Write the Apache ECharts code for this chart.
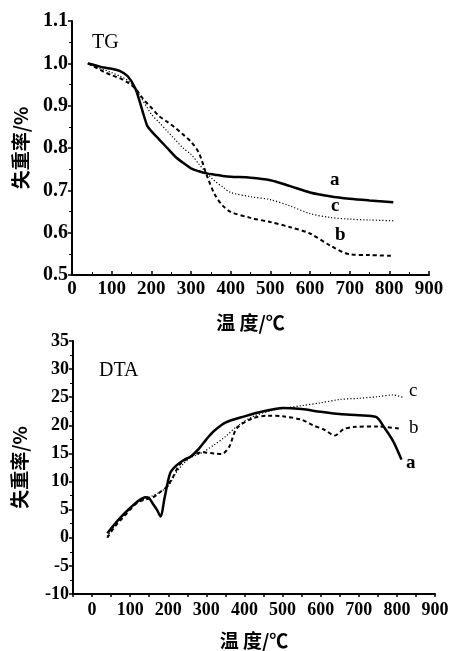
<!DOCTYPE html>
<html>
<head>
<meta charset="utf-8">
<script src="https://cdn.jsdelivr.net/npm/echarts@6/dist/echarts.min.js"></script>
<style>
  html, body { margin: 0; padding: 0; background: #fff; }
  #chart { width: 455px; height: 651px; }
</style>
</head>
<body>
<div id="chart"></div>
<script>
// TG curves (temperature / mass fraction)
const tgTemp = [40, 60, 80, 100, 120, 140, 160, 180, 190, 200, 220, 240, 260, 280, 300, 320, 340, 360, 380, 400, 450, 500, 550, 600, 650, 700, 750, 810];
const tgA = [1.0, 0.995, 0.99, 0.987, 0.982, 0.97, 0.94, 0.88, 0.852, 0.84, 0.82, 0.80, 0.78, 0.765, 0.752, 0.745, 0.74, 0.737, 0.734, 0.732, 0.73, 0.724, 0.71, 0.695, 0.686, 0.68, 0.676, 0.672];
const tgB = [1.0, 0.99, 0.98, 0.972, 0.965, 0.955, 0.94, 0.915, 0.905, 0.895, 0.875, 0.862, 0.848, 0.832, 0.815, 0.788, 0.735, 0.69, 0.664, 0.649, 0.635, 0.625, 0.613, 0.598, 0.57, 0.549, 0.547, 0.545];
const tgC = [1.0, 0.99, 0.985, 0.978, 0.97, 0.96, 0.94, 0.91, 0.895, 0.88, 0.86, 0.84, 0.82, 0.80, 0.785, 0.762, 0.74, 0.722, 0.708, 0.695, 0.685, 0.678, 0.663, 0.645, 0.636, 0.632, 0.63, 0.628];

// DTA curves
const dtaTempA = [40, 60, 80, 100, 120, 140, 150, 160, 170, 180, 190, 205, 220, 240, 260, 280, 300, 320, 350, 400, 450, 500, 550, 600, 650, 700, 745, 765, 790, 812];
const dtaA = [0.8, 2.5, 4, 5.3, 6.5, 7.2, 7.0, 6.0, 5.0, 3.8, 7.0, 11.5, 12.8, 13.8, 14.5, 15.8, 17.5, 19.0, 20.5, 21.6, 22.5, 23.1, 22.9, 22.4, 22.0, 21.8, 21.5, 19.8, 17.2, 13.9];
const dtaTempB = [40, 60, 80, 100, 120, 140, 160, 180, 195, 210, 230, 260, 290, 320, 340, 360, 380, 420, 460, 500, 550, 580, 610, 637, 660, 685, 750, 808];
const dtaB = [0, 2, 3.5, 5, 6.3, 6.8, 7.2, 8.2, 9.0, 10.5, 13, 14.5, 15.2, 15.0, 14.9, 16.2, 19.5, 21.2, 21.7, 21.6, 21.0, 20.0, 19.2, 18.2, 19.3, 19.7, 19.8, 19.4];
const dtaTempC = [40, 60, 80, 100, 120, 140, 160, 180, 200, 220, 240, 260, 290, 320, 350, 380, 420, 470, 510, 550, 600, 650, 700, 750, 790, 815];
const dtaC = [0.3, 2.2, 3.8, 5.2, 6.3, 7.0, 7.5, 8.2, 9.2, 11.5, 13.2, 14.3, 15.2, 16.5, 18.0, 19.8, 21.5, 22.6, 23.1, 23.5, 24.0, 24.6, 24.8, 25.1, 25.4, 25.0];

const yName = '失重率/%';
const xName = '温 度/℃';

function pairs(xs, ys) {
  return xs.map((x, i) => [x, ys[i]]);
}

const labelFont = { color: '#000', fontFamily: 'Liberation Serif', fontWeight: 'bold', fontSize: 19 };
const nameFont = { color: '#000', fontFamily: 'Noto Sans CJK SC', fontWeight: 'bold', fontSize: 19 };
const axisLine = { show: true, onZero: false, lineStyle: { color: '#000', width: 2 } };

function lineSeries(data, type, width, xi) {
  return {
    type: 'line',
    xAxisIndex: xi,
    yAxisIndex: xi,
    data: data,
    smooth: 0.3,
    symbol: 'none',
    lineStyle: { color: '#000', width: width, type: type },
    animation: false
  };
}

const chart = echarts.init(document.getElementById('chart'));

chart.setOption({
  backgroundColor: '#fff',
  animation: false,
  grid: [
    { left: 72, top: 21, width: 357, height: 254 },
    { left: 73, top: 341, width: 362, height: 259 }
  ],
  xAxis: [
    {
      gridIndex: 0, type: 'value', min: 0, max: 900, interval: 100,
      name: xName, nameLocation: 'middle', nameGap: 38, nameTextStyle: nameFont,
      axisLine: axisLine,
      axisTick: { show: true, inside: true, length: 4, lineStyle: { color: '#000', width: 1.5 } },
      minorTick: { show: true, splitNumber: 2, length: 3, lineStyle: { color: '#000' } },
      axisLabel: Object.assign({ margin: 5 }, labelFont),
      splitLine: { show: false }
    },
    {
      gridIndex: 1, type: 'value', min: -50, max: 900, interval: 50,
      name: xName, nameLocation: 'middle', nameGap: 37, nameTextStyle: nameFont,
      axisLine: axisLine,
      axisTick: { show: true, inside: false, length: 3, lineStyle: { color: '#000', width: 1.5 } },
      axisLabel: Object.assign({
        margin: 7,
        formatter: (v) => (v >= 0 && v % 100 === 0 ? String(v) : '')
      }, labelFont, { fontSize: 18 }),
      splitLine: { show: false }
    }
  ],
  yAxis: [
    {
      gridIndex: 0, type: 'value', min: 0.5, max: 1.1, interval: 0.1,
      name: yName, nameLocation: 'middle', nameGap: 42, nameTextStyle: nameFont,
      axisLine: axisLine,
      axisTick: { show: true, inside: false, length: 4, lineStyle: { color: '#000', width: 1.5 } },
      minorTick: { show: true, splitNumber: 2, length: 3, lineStyle: { color: '#000' } },
      axisLabel: Object.assign({ margin: 4, formatter: (v) => v.toFixed(1) }, labelFont, { fontSize: 20 }),
      splitLine: { show: false }
    },
    {
      gridIndex: 1, type: 'value', min: -10, max: 35, interval: 5,
      name: yName, nameLocation: 'middle', nameGap: 44, nameTextStyle: nameFont,
      axisLine: axisLine,
      axisTick: { show: true, inside: false, length: 4, lineStyle: { color: '#000', width: 1.5 } },
      minorTick: { show: true, splitNumber: 2, length: 3, lineStyle: { color: '#000' } },
      axisLabel: Object.assign({ margin: 4 }, labelFont, { fontSize: 18 }),
      splitLine: { show: false }
    }
  ],
  graphic: [
    { type: 'text', left: 92, top: 33, style: { text: 'TG', font: '20px "Liberation Serif"', fill: '#000' } },
    { type: 'text', left: 99, top: 361, style: { text: 'DTA', font: '20px "Liberation Serif"', fill: '#000' } },
    { type: 'text', left: 330, top: 171, style: { text: 'a', font: 'bold 19px "Liberation Serif"', fill: '#000' } },
    { type: 'text', left: 331, top: 197, style: { text: 'c', font: 'bold 19px "Liberation Serif"', fill: '#000' } },
    { type: 'text', left: 335, top: 226, style: { text: 'b', font: 'bold 19px "Liberation Serif"', fill: '#000' } },
    { type: 'text', left: 409, top: 382, style: { text: 'c', font: '19px "Liberation Serif"', fill: '#000' } },
    { type: 'text', left: 409, top: 419, style: { text: 'b', font: '19px "Liberation Serif"', fill: '#000' } },
    { type: 'text', left: 406, top: 454, style: { text: 'a', font: 'bold 19px "Liberation Serif"', fill: '#000' } }
  ],
  series: [
    lineSeries(pairs(tgTemp, tgA), 'solid', 2.5, 0),
    lineSeries(pairs(tgTemp, tgB), [4, 3], 2, 0),
    lineSeries(pairs(tgTemp, tgC), [1.2, 2], 1.2, 0),
    lineSeries(pairs(dtaTempA, dtaA), 'solid', 2.5, 1),
    lineSeries(pairs(dtaTempB, dtaB), [4, 3], 2, 1),
    lineSeries(pairs(dtaTempC, dtaC), [1.2, 2], 1.2, 1)
  ]
});
</script>
</body>
</html>
